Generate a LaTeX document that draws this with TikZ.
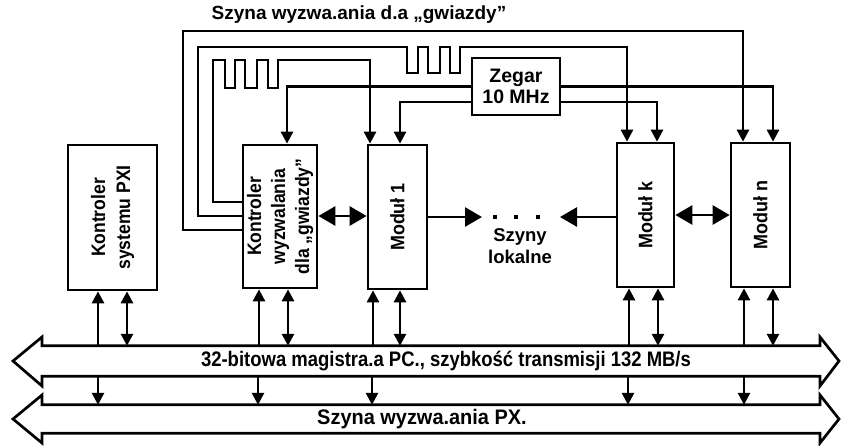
\documentclass[tikz,border=0pt]{standalone}
\usepackage{fontspec}
\setmainfont{Liberation Sans}
\usetikzlibrary{arrows.meta,calc}
\newcommand{\narrow}[2]{\scalebox{#1}[1]{#2}}
\begin{document}
\begin{tikzpicture}[x=1pt,y=-1pt,
  wire/.style={line width=2.7pt},
  box/.style={draw,line width=2.7pt,inner sep=0pt,align=center,
    font=\bfseries\fontsize{19.5}{25}\selectfont},
  vtip/.style={-{Triangle[length=12pt,width=12pt]}},
  vdbl/.style={{Triangle[length=12pt,width=12pt]}-{Triangle[length=12pt,width=12pt]}},
  htip/.style={-{Triangle[length=17pt,width=19pt]}},
  hdbl/.style={{Triangle[length=17pt,width=19pt]}-{Triangle[length=17pt,width=19pt]}},
  bustext/.style={inner sep=0pt,minimum height=#1,font=\bfseries\fontsize{21}{22}\selectfont},
  lbl/.style={inner sep=0pt,align=center,font=\bfseries\fontsize{19}{22}\selectfont}]
\useasboundingbox (0,0) rectangle (841,445);

% boxes
\node[box,minimum width=89pt,minimum height=145pt] (pxi) at (112.5,217.5)
  {\rotatebox{90}{\begin{tabular}{@{}c@{}}\narrow{0.9}{Kontroler}\\\narrow{0.9}{systemu PXI}\end{tabular}}};
\node[box,minimum width=74pt,minimum height=143pt] (kw) at (280,216.5)
  {\rotatebox{90}{\begin{tabular}{@{}c@{}}\narrow{0.9}{Kontroler}\\[-1pt]\narrow{0.9}{wyzwalania}\\[-1pt]\narrow{0.9}{dla „gwiazdy”}\end{tabular}}};
\node[box,minimum width=59pt,minimum height=144pt] (m1) at (397.5,217)
  {\rotatebox{90}{\narrow{0.92}{Moduł 1}}};
\node[box,minimum width=57pt,minimum height=144pt] (mk) at (645.5,215)
  {\rotatebox{90}{\narrow{0.92}{Moduł k}}};
\node[box,minimum width=59pt,minimum height=144pt] (mn) at (760.5,215)
  {\rotatebox{90}{\narrow{0.92}{Moduł n}}};
\node[box,minimum width=88pt,minimum height=57pt,font=\bfseries\fontsize{19.5}{21}\selectfont] (zegar) at (516,86.5)
  {Zegar\\10 MHz};

% title and labels
\node[lbl] (title) at (359,15) {Szyna wyzwa.ania d.a „gwiazdy”};
\node[lbl,font=\bfseries\fontsize{18.5}{22}\selectfont] (lok) at (520,246) {Szyny\\lokalne};

% buses
\node[bustext=30pt] (bus1) at (446,361) {\narrow{0.88}{32-bitowa magistra.a PC., szybkość transmisji 132 MB/s}};
\node[bustext=28pt] (bus2) at (422,419) {\narrow{0.95}{Szyna wyzwa.ania PX.}};
\draw[wire] (42,0 |- bus1.north) -- (820,0 |- bus1.north) -- (820,337) -- (839,361) -- (820,386)
  -- (820,0 |- bus1.south) -- (42,0 |- bus1.south) -- (42,386) -- (13,361) -- (42,337) -- cycle;
\draw[wire] (42,0 |- bus2.north) -- (820,0 |- bus2.north) -- (820,395) -- (839,419) -- (820,443)
  -- (820,0 |- bus2.south) -- (42,0 |- bus2.south) -- (42,443) -- (13,419) -- (42,395) -- cycle;

% box <-> bus1
\draw[wire,vtip] (98,0 |- bus1.north) -- (98,0 |- pxi.south);
\draw[wire,vdbl] (127,0 |- bus1.north) -- (127,0 |- pxi.south);
\draw[wire,vtip] (259,0 |- bus1.north) -- (259,0 |- kw.south);
\draw[wire,vdbl] (288,0 |- bus1.north) -- (288,0 |- kw.south);
\draw[wire,vtip] (373,0 |- bus1.north) -- (373,0 |- m1.south);
\draw[wire,vdbl] (400,0 |- bus1.north) -- (400,0 |- m1.south);
\draw[wire,vtip] (629,0 |- bus1.north) -- (629,0 |- mk.south);
\draw[wire,vdbl] (658,0 |- bus1.north) -- (658,0 |- mk.south);
\draw[wire,vtip] (744,0 |- bus1.north) -- (744,0 |- mn.south);
\draw[wire,vdbl] (773,0 |- bus1.north) -- (773,0 |- mn.south);

% bus1 -> bus2
\foreach \x in {98,258,372,628,744}
  \draw[wire,vtip] (\x,0 |- bus1.south) -- (\x,0 |- bus2.north);

% local buses
\coordinate (dotsL) at (482,217);
\coordinate (dotsR) at (560,217);
\draw[wire,hdbl] (kw.east |- 0,216) -- (m1.west |- 0,216);
\draw[wire,htip] (m1.east |- 0,217) -- (dotsL);
\draw[wire,htip] (mk.west |- 0,217) -- (dotsR);
\draw[wire,hdbl] (mk.east |- 0,215) -- (mn.west |- 0,215);
\foreach \x in {495,516,538} \fill (\x-2.3,214.7) rectangle (\x+2.3,219.3);

% clock lines
\draw[wire,vtip] (zegar.west) -| (287,0 |- kw.north);
\draw[wire,vtip] (zegar.west |- 0,102) -| (400,0 |- m1.north);
\draw[wire,vtip] (zegar.east) -| (773,0 |- mn.north);
\draw[wire,vtip] (zegar.east |- 0,102) -| (657,0 |- mk.north);

% star trigger lines
\draw[wire,vtip] (kw.west |- 0,230) -| (183,31) -| (743,0 |- mn.north);
\draw[wire,vtip] (kw.west |- 0,216) -| (198,47) -- (407,47) -- (407,73) -- (418,73) -- (418,47)
  -- (428,47) -- (428,73) -- (440,73) -- (440,47) -- (450,47) -- (450,73) -- (460,73) -- (460,47)
  -| (627,0 |- mk.north);
\draw[wire,vtip] (kw.west |- 0,202) -| (213,60) -- (225,60) -- (225,88) -- (235,88) -- (235,60)
  -- (245,60) -- (245,88) -- (257,88) -- (257,60) -- (268,60) -- (268,88) -- (278,88) -- (278,60)
  -| (370,0 |- m1.north);
\end{tikzpicture}
\end{document}
